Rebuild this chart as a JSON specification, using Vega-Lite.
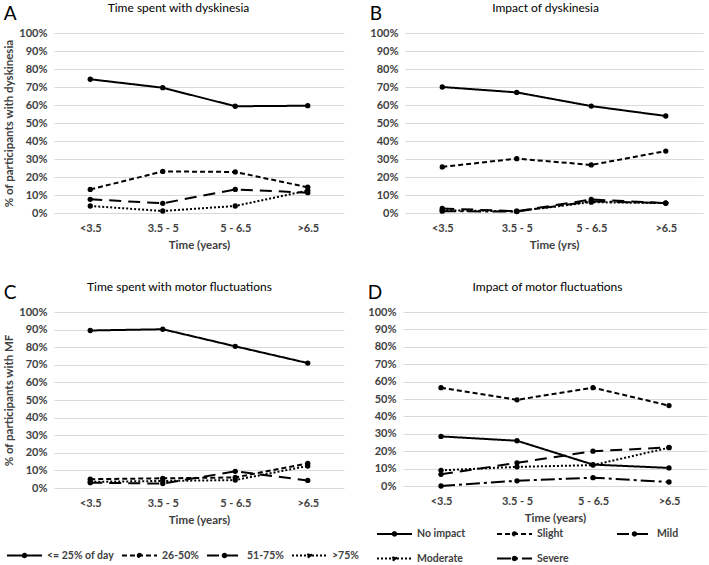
{
"$schema":"https://vega.github.io/schema/vega-lite/v6.json",
"padding":{"left":3,"top":1,"right":2,"bottom":2},
"background":"white",
"datasets":{
"A":[
{"t":"<3.5","s":"<= 25% of day","v":74.3},{"t":"3.5 - 5","s":"<= 25% of day","v":69.6},{"t":"5 - 6.5","s":"<= 25% of day","v":59.3},{"t":">6.5","s":"<= 25% of day","v":59.6},
{"t":"<3.5","s":"26-50%","v":13.1},{"t":"3.5 - 5","s":"26-50%","v":23.1},{"t":"5 - 6.5","s":"26-50%","v":22.8},{"t":">6.5","s":"26-50%","v":14.3},
{"t":"<3.5","s":"51-75%","v":7.6},{"t":"3.5 - 5","s":"51-75%","v":5.4},{"t":"5 - 6.5","s":"51-75%","v":13.1},{"t":">6.5","s":"51-75%","v":11.3},
{"t":"<3.5","s":">75%","v":3.9},{"t":"3.5 - 5","s":">75%","v":1.1},{"t":"5 - 6.5","s":">75%","v":3.9},{"t":">6.5","s":">75%","v":12.5}
],
"B":[
{"t":"<3.5","s":"No impact","v":70},{"t":"3.5 - 5","s":"No impact","v":67},{"t":"5 - 6.5","s":"No impact","v":59.4},{"t":">6.5","s":"No impact","v":53.9},
{"t":"<3.5","s":"Slight","v":25.6},{"t":"3.5 - 5","s":"Slight","v":30.2},{"t":"5 - 6.5","s":"Slight","v":26.7},{"t":">6.5","s":"Slight","v":34.4},
{"t":"<3.5","s":"Mild","v":2.5},{"t":"3.5 - 5","s":"Mild","v":1},{"t":"5 - 6.5","s":"Mild","v":7.5},{"t":">6.5","s":"Mild","v":5.5},
{"t":"<3.5","s":"Moderate","v":1.5},{"t":"3.5 - 5","s":"Moderate","v":1},{"t":"5 - 6.5","s":"Moderate","v":6},{"t":">6.5","s":"Moderate","v":5.5},
{"t":"<3.5","s":"Severe","v":1},{"t":"3.5 - 5","s":"Severe","v":0.8},{"t":"5 - 6.5","s":"Severe","v":6.5},{"t":">6.5","s":"Severe","v":5.5}
],
"C":[
{"t":"<3.5","s":"<= 25% of day","v":89.5},{"t":"3.5 - 5","s":"<= 25% of day","v":90.2},{"t":"5 - 6.5","s":"<= 25% of day","v":80.5},{"t":">6.5","s":"<= 25% of day","v":71},
{"t":"<3.5","s":"26-50%","v":5},{"t":"3.5 - 5","s":"26-50%","v":5.5},{"t":"5 - 6.5","s":"26-50%","v":6},{"t":">6.5","s":"26-50%","v":14},
{"t":"<3.5","s":"51-75%","v":3},{"t":"3.5 - 5","s":"51-75%","v":2.5},{"t":"5 - 6.5","s":"51-75%","v":9.5},{"t":">6.5","s":"51-75%","v":4.3},
{"t":"<3.5","s":">75%","v":3.5},{"t":"3.5 - 5","s":">75%","v":4},{"t":"5 - 6.5","s":">75%","v":4.5},{"t":">6.5","s":">75%","v":12.5}
],
"D":[
{"t":"<3.5","s":"No impact","v":28.5},{"t":"3.5 - 5","s":"No impact","v":26},{"t":"5 - 6.5","s":"No impact","v":12.3},{"t":">6.5","s":"No impact","v":10.4},
{"t":"<3.5","s":"Slight","v":56.5},{"t":"3.5 - 5","s":"Slight","v":49.5},{"t":"5 - 6.5","s":"Slight","v":56.5},{"t":">6.5","s":"Slight","v":46.2},
{"t":"<3.5","s":"Mild","v":6.7},{"t":"3.5 - 5","s":"Mild","v":13.3},{"t":"5 - 6.5","s":"Mild","v":20},{"t":">6.5","s":"Mild","v":22.2},
{"t":"<3.5","s":"Moderate","v":9},{"t":"3.5 - 5","s":"Moderate","v":11},{"t":"5 - 6.5","s":"Moderate","v":12},{"t":">6.5","s":"Moderate","v":22},
{"t":"<3.5","s":"Severe","v":0},{"t":"3.5 - 5","s":"Severe","v":3},{"t":"5 - 6.5","s":"Severe","v":4.8},{"t":">6.5","s":"Severe","v":2.3}
]
},
"config":{
"font":"Lato",
"view":{"stroke":null},
"title":{"fontWeight":"normal","color":"#000000","anchor":"start","frame":"bounds","fontSize":19,"offset":0,"dy":27},
"axis":{"labelFontSize":11,"labelFontWeight":"bold","labelColor":"#404040","titleFontSize":11.5,"titleFontWeight":"bold","titleColor":"#404040"},
"axisY":{"grid":true,"gridColor":"#d9d9d9","gridWidth":1,"domain":false,"ticks":false,"labelPadding":7,"titlePadding":4,"labelOverlap":false},
"axisX":{"grid":false,"domain":false,"ticks":false,"labelAngle":0,"labelPadding":9,"titlePadding":6},
"legend":{"orient":"none","direction":"horizontal","symbolType":"M-1,0H1M-0.1,0A0.1,0.1,0,1,1,0.1,0A0.1,0.1,0,1,1,-0.1,0Z","symbolStrokeColor":"black","symbolFillColor":"black","symbolStrokeWidth":2,"symbolSize":1225,"labelFontSize":10.5,"labelFontWeight":"bold","labelColor":"#404040","labelOffset":4,"title":null,"padding":0}
},
"spacing":29,
"resolve":{"scale":{"strokeDash":"independent"},"legend":{"strokeDash":"independent"}},
"vconcat":[
{"spacing":61,"bounds":"flush",
"resolve":{"scale":{"strokeDash":"independent"},"legend":{"strokeDash":"independent"}},
"hconcat":[
{"title":"A",
"width":290,"height":180,
"data":{"name":"A"},
"resolve":{"axis":{"x":"independent"}},
"encoding":{
"y":{"field":"v","type":"quantitative","scale":{"domain":[0,100]},"axis":{"title":"% of participants with dyskinesia","values":[0,10,20,30,40,50,60,70,80,90,100],"labelExpr":"datum.value + '%'"}}
},
"layer":[
{"mark":{"type":"line","color":"black","strokeWidth":2},"encoding":{"x":{"field":"t","type":"ordinal","sort":["<3.5","3.5 - 5","5 - 6.5",">6.5"],"axis":{"title":"Time (years)"}},"strokeDash":{"field":"s","type":"nominal","scale":{"domain":["<= 25% of day","26-50%","51-75%",">75%"],"range":[[1,0],[5,3],[12,7],[2,2]]},"legend":null}}},
{"mark":{"type":"point","filled":true,"color":"black","size":28,"opacity":1},"encoding":{"x":{"field":"t","type":"ordinal","sort":["<3.5","3.5 - 5","5 - 6.5",">6.5"],"axis":{"orient":"top","labels":false,"title":"Time spent with dyskinesia","titleFontWeight":"normal","titleColor":"black","titleFontSize":12,"titlePadding":19,"titleX":124}}}}
]},
{"title":"B",
"width":298,"height":180,
"data":{"name":"B"},
"resolve":{"axis":{"x":"independent"}},
"encoding":{
"y":{"field":"v","type":"quantitative","scale":{"domain":[0,100]},"axis":{"title":null,"values":[0,10,20,30,40,50,60,70,80,90,100],"labelExpr":"datum.value + '%'"}}
},
"layer":[
{"mark":{"type":"line","color":"black","strokeWidth":2},"encoding":{"x":{"field":"t","type":"ordinal","sort":["<3.5","3.5 - 5","5 - 6.5",">6.5"],"axis":{"title":"Time (yrs)"}},"strokeDash":{"field":"s","type":"nominal","scale":{"domain":["No impact","Slight","Mild","Moderate","Severe"],"range":[[1,0],[5,3],[12,7],[2,2],[14,4,3,4]]},"legend":null}}},
{"mark":{"type":"point","filled":true,"color":"black","size":28,"opacity":1},"encoding":{"x":{"field":"t","type":"ordinal","sort":["<3.5","3.5 - 5","5 - 6.5",">6.5"],"axis":{"orient":"top","labels":false,"title":"Impact of dyskinesia","titleFontWeight":"normal","titleColor":"black","titleFontSize":12,"titlePadding":19,"titleX":140}}}}
]}
]},
{"spacing":59,"bounds":"flush",
"resolve":{"scale":{"strokeDash":"independent"},"legend":{"strokeDash":"independent"}},
"hconcat":[
{"title":"C",
"width":290,"height":176,
"data":{"name":"C"},
"resolve":{"axis":{"x":"independent"}},
"encoding":{
"y":{"field":"v","type":"quantitative","scale":{"domain":[0,100]},"axis":{"title":"% of participants with MF","values":[0,10,20,30,40,50,60,70,80,90,100],"labelExpr":"datum.value + '%'"}}
},
"layer":[
{"mark":{"type":"line","color":"black","strokeWidth":2},"encoding":{"x":{"field":"t","type":"ordinal","sort":["<3.5","3.5 - 5","5 - 6.5",">6.5"],"axis":{"title":"Time (years)"}},"strokeDash":{"field":"s","type":"nominal","scale":{"domain":["<= 25% of day","26-50%","51-75%",">75%"],"range":[[1,0],[5,3],[12,7],[2,2]]},"legend":{"orient":"none","legendX":-48,"legendY":225,"columns":4,"columnPadding":4,"gridAlign":"none"}}}},
{"mark":{"type":"point","filled":true,"color":"black","size":28,"opacity":1},"encoding":{"x":{"field":"t","type":"ordinal","sort":["<3.5","3.5 - 5","5 - 6.5",">6.5"],"axis":{"orient":"top","labels":false,"title":"Time spent with motor fluctuations","titleFontWeight":"normal","titleColor":"black","titleFontSize":12,"titlePadding":19,"titleX":125}}}}
]},
{"title":"D",
"width":304,"height":174,
"data":{"name":"D"},
"resolve":{"axis":{"x":"independent"}},
"encoding":{
"y":{"field":"v","type":"quantitative","scale":{"domain":[0,100]},"axis":{"title":null,"values":[0,10,20,30,40,50,60,70,80,90,100],"labelExpr":"datum.value + '%'"}}
},
"layer":[
{"mark":{"type":"line","color":"black","strokeWidth":2},"encoding":{"x":{"field":"t","type":"ordinal","sort":["<3.5","3.5 - 5","5 - 6.5",">6.5"],"axis":{"title":"Time (years)"}},"strokeDash":{"field":"s","type":"nominal","scale":{"domain":["No impact","Slight","Mild","Moderate","Severe"],"range":[[1,0],[5,3],[12,7],[2,2],[14,4,3,4]]},"legend":{"orient":"none","legendX":-27,"legendY":203,"columns":3,"columnPadding":27,"gridAlign":"all","rowPadding":0}}}},
{"mark":{"type":"point","filled":true,"color":"black","size":28,"opacity":1},"encoding":{"x":{"field":"t","type":"ordinal","sort":["<3.5","3.5 - 5","5 - 6.5",">6.5"],"axis":{"orient":"top","labels":false,"title":"Impact of motor fluctuations","titleFontWeight":"normal","titleColor":"black","titleFontSize":12,"titlePadding":19,"titleX":144}}}}
]}
]}
]
}
